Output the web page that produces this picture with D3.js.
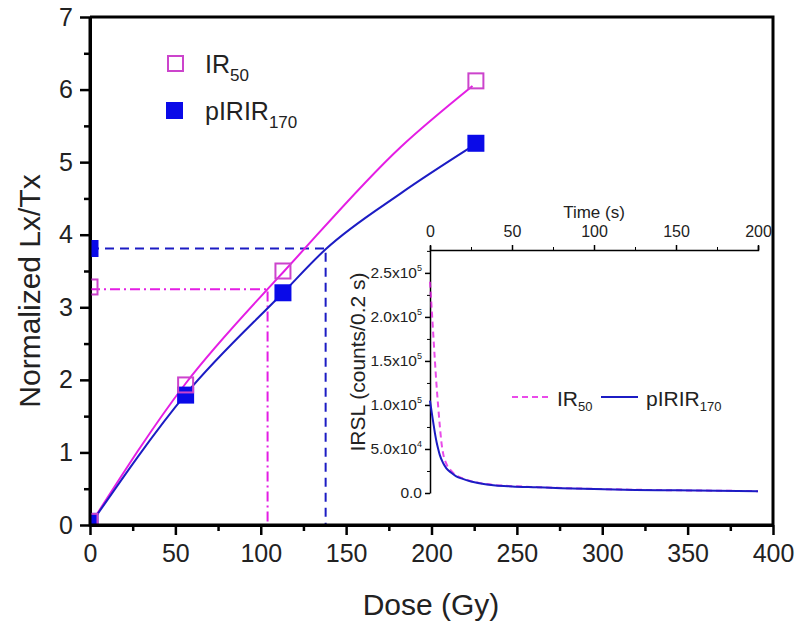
<!DOCTYPE html>
<html>
<head>
<meta charset="utf-8">
<script src="https://cdn.jsdelivr.net/npm/d3@7"></script>
<style>
  body { margin: 0; background: #fff; }
  svg { font-family: "Liberation Sans", Arial, sans-serif; }
</style>
</head>
<body>
<svg id="chart" width="801" height="628"></svg>
<script>
// dose response points (Gy, normalized Lx/Tx)
var doses = [0, 56, 113, 226]
var ir50 = [0.05, 1.93, 3.5, 6.12]
var pirir = [0.05, 1.79, 3.2, 5.26]

// natural signals plotted at dose 0
var ir50Natural = 3.28
var piririNatural = 3.81

// equivalent dose read-off (De, Ln/Tn)
var ir50De = [104, 3.25]
var piririDe = [138, 3.81]

// fitted growth curves
var ir50FitDose = [0, 56, 104, 113, 182, 224]
var ir50FitVal = [0, 1.95, 3.25, 3.48, 5.21, 6.05]
var piririFitDose = [0, 56, 113, 138, 182, 224]
var piririFitVal = [0, 1.8, 3.2, 3.8, 4.57, 5.22]

// inset decay curves (time s, counts/0.2 s)
var ir50Time = [0, 1, 2, 3, 4, 5, 6, 7, 8, 10, 13, 16, 20, 25, 30, 40, 50, 65, 80, 100, 125, 150, 175, 200]
var ir50Counts = [240000, 210000, 180000, 150000, 122000, 98000, 76000, 57000, 45000, 33000, 25000, 20000, 16500, 13500, 11500, 9000, 7800, 6700, 5700, 4700, 3700, 3100, 2600, 2100]
var piririTime = [0, 1, 2, 3, 4, 5, 6, 8, 10, 13, 16, 20, 25, 30, 40, 50, 65, 80, 100, 125, 150, 175, 200]
var piririCounts = [105000, 92000, 80000, 68000, 58000, 50000, 43000, 34000, 28000, 23000, 19000, 16000, 13000, 11000, 8500, 7500, 6500, 5500, 4500, 3500, 3000, 2500, 2000]

var xTicks = [0, 50, 100, 150, 200, 250, 300, 350, 400]
var yTicks = [0, 1, 2, 3, 4, 5, 6, 7]
var timeTicks = [0, 50, 100, 150, 200]
var countTicks = [0, 50000, 100000, 150000, 200000, 250000]
var countMant = ["0.0", "5.0", "1.0", "1.5", "2.0", "2.5"]
var countExp = ["", "4", "5", "5", "5", "5"]

var magentaLine = "#e41ee4"
var magentaMark = "#cc44cc"
var blueLine = "#1c1cc4"
var blueMark = "#0a0ae8"

var svg = d3.select("#chart")

var x = d3.scaleLinear().domain([0, 400]).range([90, 773])
var y = d3.scaleLinear().domain([0, 7]).range([525, 17])

svg.append("clipPath").attr("id", "plotClip")
  .append("rect").attr("x", x(0)).attr("y", y(7))
  .attr("width", x(400) - x(0)).attr("height", y(0) - y(7))

// frame top/right
svg.append("path")
  .attr("d", `M${x(0)},${y(7)}H${x(400)}V${y(0)}`)
  .attr("fill", "none").attr("stroke", "#000").attr("stroke-width", 3)

// minor ticks
svg.append("g").attr("transform", `translate(0,${y(0)})`)
  .call(d3.axisBottom(x).tickValues(d3.range(25, 400, 50)).tickSize(6).tickFormat(""))
  .call(g => g.select(".domain").remove())
  .selectAll("line").attr("stroke-width", 2.5)
svg.append("g").attr("transform", `translate(${x(0)},0)`)
  .call(d3.axisLeft(y).tickValues(d3.range(0.5, 7, 1)).tickSize(6).tickFormat(""))
  .call(g => g.select(".domain").remove())
  .selectAll("line").attr("stroke-width", 2.5)

var gx = svg.append("g").attr("transform", `translate(0,${y(0)})`)
  .call(d3.axisBottom(x).tickValues(xTicks).tickSize(10).tickPadding(9).tickSizeOuter(0))
gx.select(".domain").attr("stroke-width", 3)
gx.selectAll("line").attr("stroke-width", 2.5)
gx.selectAll("text").attr("font-size", 25).attr("fill", "#222")

var gy = svg.append("g").attr("transform", `translate(${x(0)},0)`)
  .call(d3.axisLeft(y).tickValues(yTicks).tickFormat(d3.format("d")).tickSize(10).tickPadding(7).tickSizeOuter(0))
gy.select(".domain").attr("stroke-width", 3)
gy.selectAll("line").attr("stroke-width", 2.5)
gy.selectAll("text").attr("font-size", 25).attr("fill", "#222")

svg.append("text").attr("x", 431).attr("y", 615)
  .attr("text-anchor", "middle").attr("font-size", 30).attr("fill", "#222")
  .text("Dose (Gy)")
svg.append("text").attr("transform", "translate(40,291) rotate(-90)")
  .attr("text-anchor", "middle").attr("font-size", 30).attr("fill", "#222")
  .text("Normalized Lx/Tx")

// read-off lines
svg.append("path")
  .attr("d", `M${x(0)},${y(ir50De[1])}H${x(ir50De[0])}V${y(0)}`)
  .attr("fill", "none").attr("stroke", magentaLine).attr("stroke-width", 2)
  .attr("stroke-dasharray", "10,4,2,4")
svg.append("path")
  .attr("d", `M${x(0)},${y(piririDe[1])}H${x(piririDe[0])}V${y(0)}`)
  .attr("fill", "none").attr("stroke", blueLine).attr("stroke-width", 2)
  .attr("stroke-dasharray", "9,6")

// fits
var fitLine = d3.line().curve(d3.curveMonotoneX)
  .x(d => x(d[0])).y(d => y(d[1]))
svg.append("path").datum(d3.zip(ir50FitDose, ir50FitVal))
  .attr("d", fitLine).attr("fill", "none").attr("stroke", magentaLine).attr("stroke-width", 2)
svg.append("path").datum(d3.zip(piririFitDose, piririFitVal))
  .attr("d", fitLine).attr("fill", "none").attr("stroke", blueLine).attr("stroke-width", 2)

var ms = 17
var marks = svg.append("g").attr("clip-path", "url(#plotClip)")
marks.append("g").selectAll("rect").data(d3.zip(doses, pirir).concat([[0, piririNatural]]))
  .join("rect")
  .attr("x", d => x(d[0]) - ms / 2).attr("y", d => y(d[1]) - ms / 2)
  .attr("width", ms).attr("height", ms).attr("fill", blueMark)
marks.append("g").selectAll("rect").data(d3.zip(doses, ir50).concat([[0, ir50Natural]]))
  .join("rect")
  .attr("x", d => x(d[0]) - ms / 2 + 1).attr("y", d => y(d[1]) - ms / 2 + 1)
  .attr("width", ms - 2).attr("height", ms - 2)
  .attr("fill", "none").attr("stroke", magentaMark).attr("stroke-width", 2)
// redraw the left/bottom axis lines over the clipped markers
svg.append("path").attr("d", `M${x(0)},${y(7)}V${y(0)}H${x(400)}`)
  .attr("fill", "none").attr("stroke", "#000").attr("stroke-width", 3)

// legend
svg.append("rect").attr("x", 168).attr("y", 56).attr("width", 15).attr("height", 15)
  .attr("fill", "none").attr("stroke", magentaMark).attr("stroke-width", 2)
svg.append("rect").attr("x", 166).attr("y", 102).attr("width", 17).attr("height", 17)
  .attr("fill", blueMark)
var l1 = svg.append("text").attr("x", 205).attr("y", 73).attr("font-size", 25).attr("fill", "#222")
l1.append("tspan").text("IR")
l1.append("tspan").attr("dy", 8).attr("font-size", 17).text("50")
var l2 = svg.append("text").attr("x", 205).attr("y", 120).attr("font-size", 25).attr("fill", "#222")
l2.append("tspan").text("pIRIR")
l2.append("tspan").attr("dy", 8).attr("font-size", 17).text("170")

// inset
var tx = d3.scaleLinear().domain([0, 200]).range([430, 758])
var ty = d3.scaleLinear().domain([0, 276000]).range([493, 250])

svg.append("g").attr("transform", "translate(0,250)")
  .call(d3.axisTop(tx).tickValues(d3.range(25, 200, 50)).tickSize(3).tickFormat(""))
  .call(g => g.select(".domain").remove())
var it = svg.append("g").attr("transform", "translate(0,250)")
  .call(d3.axisTop(tx).tickValues(timeTicks).tickSize(5).tickPadding(8).tickSizeOuter(4))
it.select(".domain").attr("stroke-width", 1.5)
it.selectAll("line").attr("stroke-width", 1.5)
it.selectAll("text").attr("font-size", 16).attr("fill", "#222")
svg.append("text").attr("x", 594).attr("y", 218).attr("text-anchor", "middle")
  .attr("font-size", 17).attr("fill", "#222").text("Time (s)")

svg.append("g").attr("transform", "translate(430,0)")
  .call(d3.axisLeft(ty).tickValues(d3.range(25000, 276000, 50000)).tickSize(3).tickFormat(""))
  .call(g => g.select(".domain").remove())
var iy = svg.append("g").attr("transform", "translate(430,0)")
  .call(d3.axisLeft(ty).tickValues(countTicks).tickSize(5).tickPadding(3).tickSizeOuter(0))
iy.select(".domain").attr("stroke-width", 1.5)
iy.selectAll("line").attr("stroke-width", 1.5)
iy.selectAll("text").attr("font-size", 15.5).attr("fill", "#222")
  .each(function(d, i) {
    var t = d3.select(this).text("")
    if (countExp[i] === "") { t.text(countMant[i]); return }
    t.append("tspan").text(countMant[i] + "x10")
    t.append("tspan").attr("dy", -7).attr("font-size", 9).text(countExp[i])
  })
svg.append("text").attr("transform", "translate(365,362) rotate(-90)")
  .attr("text-anchor", "middle").attr("font-size", 21).attr("fill", "#222")
  .text("IRSL (counts/0.2 s)")

var decay = d3.line().curve(d3.curveMonotoneX).x(d => tx(d[0])).y(d => ty(d[1]))
svg.append("path").datum(d3.zip(ir50Time, ir50Counts))
  .attr("d", decay).attr("fill", "none").attr("stroke", magentaLine)
  .attr("stroke-width", 2).attr("stroke-dasharray", "6,4").attr("opacity", 0.8)
svg.append("path").datum(d3.zip(piririTime, piririCounts))
  .attr("d", decay).attr("fill", "none").attr("stroke", blueLine).attr("stroke-width", 2)

// inset legend
svg.append("line").attr("x1", 512).attr("x2", 552).attr("y1", 397).attr("y2", 397)
  .attr("stroke", magentaLine).attr("stroke-width", 2).attr("stroke-dasharray", "6,4").attr("opacity", 0.8)
svg.append("line").attr("x1", 601).attr("x2", 638).attr("y1", 397).attr("y2", 397)
  .attr("stroke", blueLine).attr("stroke-width", 2)
var il1 = svg.append("text").attr("x", 557).attr("y", 406).attr("font-size", 21).attr("fill", "#222")
il1.append("tspan").text("IR")
il1.append("tspan").attr("dy", 5).attr("font-size", 13).text("50")
var il2 = svg.append("text").attr("x", 646).attr("y", 406).attr("font-size", 21).attr("fill", "#222")
il2.append("tspan").text("pIRIR")
il2.append("tspan").attr("dy", 5).attr("font-size", 13).text("170")
</script>
</body>
</html>
